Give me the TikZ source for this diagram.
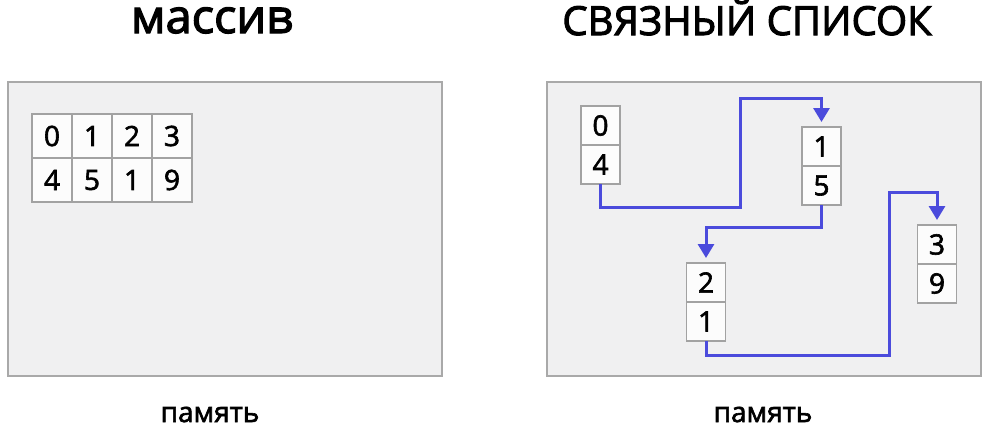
\documentclass[tikz,border=0pt]{standalone}
\usepackage{fontspec}
\setmainfont{Open Sans}
\newfontfamily\medfont[FakeBold=2.2]{Open Sans}
\newfontfamily\headfont[FakeBold=2.6]{Open Sans}
\usepackage{tikz}
\usetikzlibrary{positioning,arrows.meta}
\definecolor{memfill}{HTML}{F0F0F1}
\definecolor{memline}{HTML}{A9A9A9}
\definecolor{cellfill}{HTML}{FCFCFC}
\definecolor{cellline}{HTML}{A2A2A2}
\definecolor{linkblue}{HTML}{4B4BDC}

\begin{document}
\begin{tikzpicture}[
  x=1pt,y=-1pt,
  every node/.style={inner sep=0pt,outer sep=0pt},
  panel/.style={draw=memline,line width=2.5pt,fill=memfill,minimum width=434pt,minimum height=294pt},
  cell/.style={draw=cellline,line width=1.5pt,fill=cellfill,minimum width=40pt,minimum height=44pt,font=\medfont\fontsize{28}{28}\selectfont},
  lcell/.style={cell,minimum width=39pt,minimum height=39pt},
  link/.style={-{Triangle[length=14pt,width=16pt]},line width=3pt,draw=linkblue},
  title/.style={anchor=base,text height=20pt},
  caption/.style={anchor=base,font=\medfont\fontsize{28}{28}\selectfont}
]
  \useasboundingbox (0,0) rectangle (992,431);
  % memory areas
  \node[panel] (mem1) at (225,229) {};
  \node[panel] (mem2) at (764,229) {};
  % array
  \foreach \d [count=\i] in {0,1,2,3}
    \node[cell] (top\i) at (12+40*\i,136) {\d};
  \foreach \d [count=\i] in {4,5,1,9}
    \node[cell] (bot\i) at (12+40*\i,180) {\d};
  % linked list
  \node[lcell] (n0v) at (600.5,125.5) {0};
  \node[lcell,below=0pt of n0v] (n0p) {4};
  \node[lcell] (n1v) at (821.5,146.5) {1};
  \node[lcell,below=0pt of n1v] (n1p) {5};
  \node[lcell] (n2v) at (706,282.5) {2};
  \node[lcell,below=0pt of n2v] (n2p) {1};
  \node[lcell] (n3v) at (937,244.5) {3};
  \node[lcell,below=0pt of n3v] (n3p) {9};
  \coordinate (up1) at (740,98);
  \coordinate (up2) at (889,192);
  \draw[link] (n0p.south) -- ++(0,23) -| (up1) -| ([yshift=5pt]n1v.north);
  \draw[link] (n1p.south) -- ++(0,22) -| ([yshift=5pt]n2v.north);
  \draw[link] (n2p.south) -- ++(0,14) -| (up2) -| ([yshift=5pt]n3v.north);
  % labels
  \node[title,font=\headfont\fontsize{47}{47}\selectfont] (arrtitle) at (212,33) {массив};
  \node[title,font=\headfont\fontsize{40}{40}\selectfont] (listtitle) at (747,35) {СВЯЗНЫЙ СПИСОК};
  \node[caption] (cap1) at (210,422) {память};
  \node[caption] (cap2) at (763,422) {память};
\end{tikzpicture}
\end{document}
